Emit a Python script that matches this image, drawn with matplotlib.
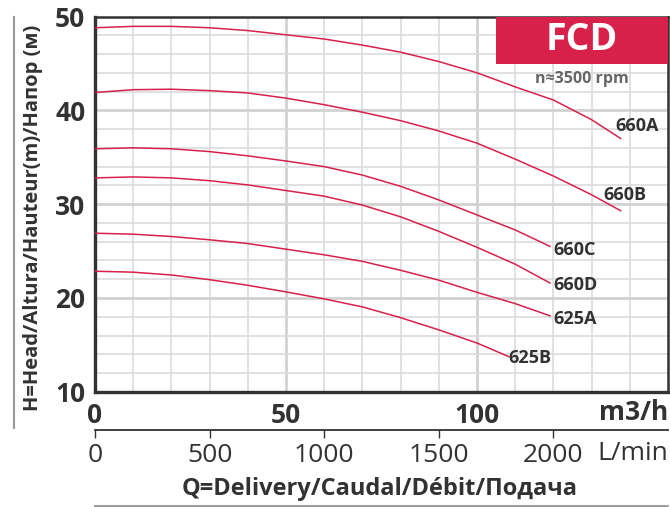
import matplotlib
matplotlib.use("Agg")
import matplotlib.pyplot as plt
from matplotlib.lines import Line2D
from matplotlib.patches import Rectangle
from matplotlib import font_manager

# ---------------- data ----------------
flow_m3h = [0, 10, 20, 30, 40, 50, 60, 70, 80, 90, 100, 110, 120, 130]

head_660A = [48.8, 48.95, 48.95, 48.8, 48.5, 48.05, 47.6, 46.95, 46.2, 45.2, 44.0, 42.5, 41.1, 39.0]
head_660B = [41.9, 42.2, 42.25, 42.1, 41.85, 41.3, 40.6, 39.8, 38.9, 37.8, 36.5, 34.8, 33.0, 31.0]
head_660C = [35.9, 36.0, 35.9, 35.6, 35.15, 34.6, 34.0, 33.1, 31.9, 30.45, 28.85, 27.25]
head_660D = [32.8, 32.9, 32.8, 32.5, 32.05, 31.45, 30.85, 29.9, 28.65, 27.1, 25.4, 23.6]
head_625A = [26.9, 26.8, 26.55, 26.2, 25.8, 25.2, 24.6, 23.9, 22.95, 21.9, 20.6, 19.4]
head_625B = [22.85, 22.75, 22.45, 21.95, 21.35, 20.65, 19.9, 19.05, 17.9, 16.6, 15.2]

# end points (max flow, head) of each curve
end_660A = (137.6, 37.0)
end_660B = (137.6, 29.3)
end_660C = (119.1, 25.5)
end_660D = (119.1, 21.6)
end_625A = (119.1, 18.1)
end_625B = (108.3, 13.75)

series_names = ["660A", "660B", "660C", "660D", "625A", "625B"]
series_heads = [head_660A, head_660B, head_660C, head_660D, head_625A, head_625B]
series_ends = [end_660A, end_660B, end_660C, end_660D, end_625A, end_625B]
# label anchor (left x, centre y)
label_pos = [(136.2, 38.3), (133.1, 31.0), (120.0, 25.1), (120.0, 21.4), (120.0, 17.8), (108.3, 13.65)]

y_ticks = [10, 20, 30, 40, 50]
x_ticks = [0, 50, 100]
lmin_ticks = [0, 500, 1000, 1500, 2000]

# ---------------- style ----------------
avail = {f.name for f in font_manager.fontManager.ttflist}
cond = [f for f in ["Liberation Sans Narrow", "DejaVu Sans Condensed", "Open Sans", "DejaVu Sans"] if f in avail]
FAM = cond + ["DejaVu Sans"]

DARK = "#333132"
RED = "#D7214B"
GRID = "#dcdcdc"

fig = plt.figure(figsize=(6.70, 5.07), dpi=100)
W, H = 670.0, 507.0
L, R, T, B = 95, 668, 16.5, 391.8
ax = fig.add_axes([L / W, 1 - B / H, (R - L) / W, (B - T) / H])
ax.set_xlim(0, 150)
ax.set_ylim(10, 50)

# grid
for xv in range(10, 150, 10):
    major = xv % 50 == 0
    ax.axvline(xv, color="#d2d2d2" if major else GRID, lw=2.0 if major else 1.2, zorder=0)
for yv in range(12, 50, 2):
    major = yv % 10 == 0
    ax.axhline(yv, color="#d2d2d2" if major else GRID, lw=2.0 if major else 1.2, zorder=0)

for sp in ax.spines.values():
    sp.set_color(DARK)
    sp.set_linewidth(1.8)
ax.spines["left"].set_linewidth(2.4)
ax.spines["bottom"].set_linewidth(2.4)

# curves
for name, heads, end, lp in zip(series_names, series_heads, series_ends, label_pos):
    xs = flow_m3h[:len(heads)] + [end[0]]
    ys = heads + [end[1]]
    ax.plot(xs, ys, color=RED, lw=1.1, zorder=3, solid_joinstyle="round")
    ax.text(lp[0], lp[1], name, ha="left", va="center", fontsize=13, fontweight="bold",
            color=DARK, family=FAM, zorder=4)

# ticks
ax.set_yticks(y_ticks)
ax.set_xticks(x_ticks)
ax.tick_params(axis="both", length=0, colors=DARK, labelsize=19)
ax.tick_params(axis="y", pad=7)
ax.tick_params(axis="x", pad=7)
for lab in ax.get_yticklabels() + ax.get_xticklabels():
    lab.set_fontweight("bold")
    lab.set_family(FAM)
    lab.set_color(DARK)

# FCD box
ax.add_patch(Rectangle((105.1, 44.94), 150 - 105.1, 50 - 44.94, facecolor=RED, edgecolor="none", zorder=5))
ax.text(127.5, 47.5, "FCD", ha="center", va="center", fontsize=27, fontweight="bold",
        color="white", family=FAM, zorder=6)
ax.text(127.4, 43.35, "n\u22483500 rpm", ha="center", va="center", fontsize=11.5, fontweight="bold",
        color="#666666", family=FAM, zorder=6)

# m3/h unit label
fig.text(668 / W, 1 - 412 / H, "m3/h", ha="right", va="center", fontsize=19, fontweight="bold",
         color=DARK, family=FAM)

# secondary L/min axis
sec = ax.secondary_xaxis((B - 430) / (B - T), functions=(lambda q: q * 1000.0 / 60.0, lambda l: l * 60.0 / 1000.0))
sec.set_xticks(lmin_ticks)
sec.spines["bottom"].set_color(DARK)
sec.spines["bottom"].set_linewidth(1.3)
sec.tick_params(axis="x", direction="out", length=5.5, width=1.0, colors=DARK, labelsize=19, pad=4)
for lab in sec.get_xticklabels():
    lab.set_family(FAM)
    lab.set_color(DARK)
fig.text(597 / W, 1 - 453 / H, "L/min", ha="left", va="center", fontsize=19, color=DARK, family=FAM)

# x axis title
fig.text(380 / W, 1 - 489 / H, "Q=Delivery/Caudal/D\u00e9bit/\u041f\u043e\u0434\u0430\u0447\u0430", ha="center", va="center",
         fontsize=17, fontweight="bold", color=DARK, family=FAM)
# y axis title
fig.text(33 / W, 1 - 218 / H, "H=Head/Altura/Hauteur(m)/\u041d\u0430\u043f\u043e\u0440 (\u043c)", ha="center", va="center",
         rotation=90, fontsize=14.5, fontweight="bold", color=DARK, family=FAM)

# decorative lines
fig.add_artist(Line2D([95 / W, 668 / W], [1 - 505.5 / H, 1 - 505.5 / H], color="#8a8a8a", lw=1.2))
fig.add_artist(Line2D([14 / W, 14 / W], [1 - 17 / H, 1 - 428 / H], color="#9a9a9a", lw=1.5))

fig.savefig("out.png", dpi=100)
